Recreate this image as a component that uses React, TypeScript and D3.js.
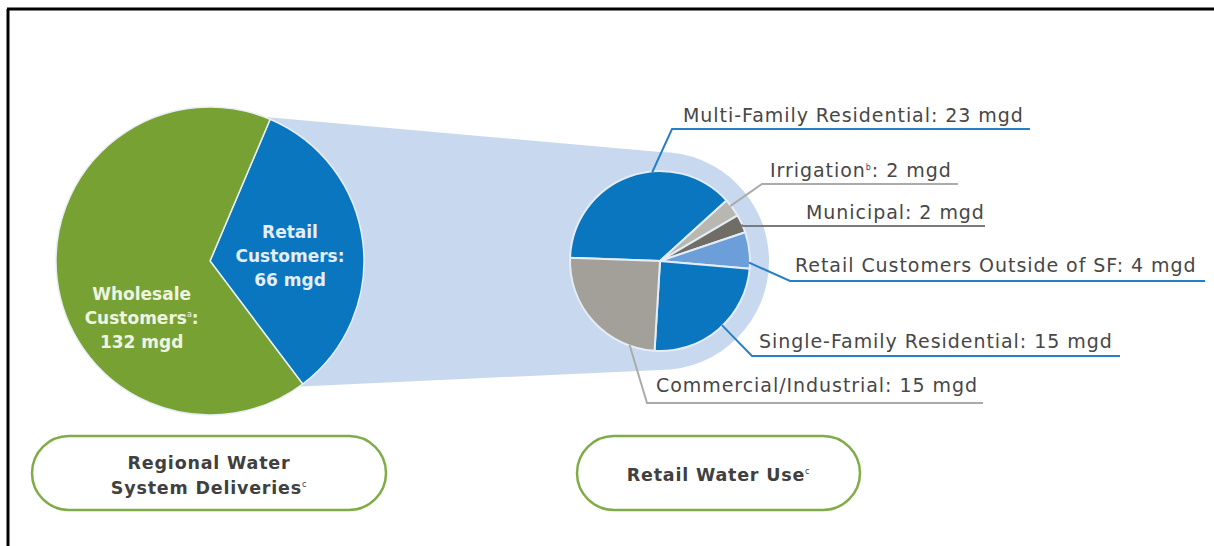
import * as d3 from "d3";

// regional water system deliveries (mgd)
const regionalCategories = ["Retail Customers", "Wholesale Customers"];
const regionalValues = [66, 132];
const regionalNotes = ["", "a"];

// retail water use (mgd)
const retailCategories = [
  "Multi-Family Residential",
  "Irrigation",
  "Municipal",
  "Retail Customers Outside of SF",
  "Single-Family Residential",
  "Commercial/Industrial",
];
const retailValues = [23, 2, 2, 4, 15, 15];
const retailNotes = ["", "b", "", "", "", ""];

const unit = "mgd";
const panelTitles = [["Regional Water", "System Deliveries"], ["Retail Water Use"]];
const panelNote = "c";

// ---- layout / styles ----
const W = 1214, H = 546;
const FONT = "'DejaVu Sans', 'Open Sans', sans-serif";
const TEXT = "#474747";
const BLUE = "#0a76c0";
const LIGHT = "#c8d8ee";

const left = { cx: 210, cy: 261, r: 154, start: 23 };
const right = { cx: 660, cy: 261, r: 90, halo: 109, start: -88 };

const regionalColors = [BLUE, "#77a233"];
const regionalText = ["#e4eef9", "#eef4e2"];
// polar anchor (deg, radius) of each in-slice label block
const regionalLabelPos = [{ a: 90, r: 80 }, { a: 228, r: 92 }];

const retailColors = [BLUE, "#b9b7b1", "#706d67", "#6c9fd9", BLUE, "#a3a099"];
const lineColors = ["#2580c6", "#ababab", "#7a7a7a", "#2580c6", "#2580c6", "#ababab"];
// text baseline, underline y, elbow x, underline end x, leader angle on pie
const retailLabelPos = [
  { tx: 683, ty: 122, ly: 129, x1: 672, x2: 1030, a: -5 },
  { tx: 770, ty: 177, ly: 184, x1: 762, x2: 958, a: 52 },
  { tx: 806, ty: 219, ly: 226, x1: 743, x2: 985, a: 66 },
  { tx: 795, ty: 272, ly: 281, x1: 790, x2: 1205, a: 91 },
  { tx: 759, ty: 348, ly: 356, x1: 752, x2: 1120, a: 136 },
  { tx: 656, ty: 392, ly: 403, x1: 647, x2: 983, a: 200 },
];

const rad = (d: number) => (d * Math.PI) / 180;
const polar = (cx: number, cy: number, a: number, r: number): [number, number] => [
  cx + r * Math.sin(rad(a)),
  cy - r * Math.cos(rad(a)),
];

export default function App() {
  const leftPie = d3.pie<number>().sort(null)
    .startAngle(rad(left.start)).endAngle(rad(left.start) + 2 * Math.PI)(regionalValues);
  const leftArc = d3.arc<d3.PieArcDatum<number>>().innerRadius(0).outerRadius(left.r);

  const rightPie = d3.pie<number>().sort(null)
    .startAngle(rad(right.start)).endAngle(rad(right.start) + 2 * Math.PI)(retailValues);
  const rightArc = d3.arc<d3.PieArcDatum<number>>().innerRadius(0).outerRadius(right.r);

  // light blue "zoom" band from the retail slice to the retail pie
  const [ux0, uy0] = polar(left.cx, left.cy, left.start - 1, left.r + 1);
  const [lx0, ly0] = polar(left.cx, left.cy, left.start + 120 + 1, left.r + 1);
  const band = d3.line()([
    [ux0, uy0],
    [right.cx, right.cy - right.halo],
    [right.cx, right.cy + right.halo],
    [lx0, ly0],
  ]) + "Z";

  return (
    <svg width={W} height={H} style={{ position: "absolute", left: 0, top: 0, background: "#fff" }} fontFamily={FONT}>
      {/* frame */}
      <line x1={7} y1={9} x2={W} y2={9} stroke="#000" strokeWidth={3} />
      <line x1={8} y1={9} x2={8} y2={H} stroke="#000" strokeWidth={3} />

      <path d={band} fill={LIGHT} />
      <circle cx={right.cx} cy={right.cy} r={right.halo} fill={LIGHT} />

      {/* regional deliveries pie */}
      <g transform={`translate(${left.cx},${left.cy})`}>
        {leftPie.map((d, i) => (
          <path key={i} d={leftArc(d) || ""} fill={regionalColors[i]} stroke="#e8eef5" strokeWidth={1.5} />
        ))}
      </g>
      {leftPie.map((d, i) => {
        const [x, y] = polar(left.cx, left.cy, regionalLabelPos[i].a, regionalLabelPos[i].r);
        const words = regionalCategories[i].split(" ");
        const note = regionalNotes[i];
        return (
          <text key={i} x={x} y={y} textAnchor="middle" fill={regionalText[i]} fontSize={17} fontWeight={700}>
            <tspan x={x} dy={-23}>{words[0]}</tspan>
            <tspan x={x} dy={24}>{words[1]}</tspan>
            {note ? <tspan dy={-7} fontSize={8} fontWeight={400}>{note}</tspan> : null}
            <tspan dy={note ? 7 : 0}>:</tspan>
            <tspan x={x} dy={24}>{`${regionalValues[i]} ${unit}`}</tspan>
          </text>
        );
      })}

      {/* retail use pie */}
      <g transform={`translate(${right.cx},${right.cy})`}>
        {rightPie.map((d, i) => (
          <path key={i} d={rightArc(d) || ""} fill={retailColors[i]} stroke="#e4ecf6" strokeWidth={2} />
        ))}
      </g>

      {rightPie.map((d, i) => {
        const p = retailLabelPos[i];
        const [sx, sy] = polar(right.cx, right.cy, p.a, right.r * 0.99);
        const pts = d3.line()([[sx, sy], [p.x1, p.ly], [p.x2, p.ly]]) || "";
        const note = retailNotes[i];
        return (
          <g key={i}>
            <path d={pts} fill="none" stroke={lineColors[i]} strokeWidth={2} />
            <text x={p.tx} y={p.ty} fill={TEXT} fontSize={19} letterSpacing={0.95}>
              <tspan>{retailCategories[i]}</tspan>
              {note ? <tspan dy={-7} fontSize={8}>{note}</tspan> : null}
              <tspan dy={note ? 7 : 0}>{`: ${retailValues[i]} ${unit}`}</tspan>
            </text>
          </g>
        );
      })}

      {/* panel captions */}
      {[{ x: 32, w: 354 }, { x: 577, w: 283 }].map((b, i) => {
        const lines = panelTitles[i];
        const cx = b.x + b.w / 2;
        const y0 = 473 - ((lines.length - 1) * 25) / 2 + 8;
        return (
          <g key={i}>
            <rect x={b.x} y={436} width={b.w} height={74} rx={37} fill="#fff" stroke="#80ac47" strokeWidth={2.5} />
            <text textAnchor="middle" fill="#404040" fontSize={17.5} fontWeight={700} letterSpacing={0.8}>
              {lines.map((l, j) => (
                <tspan key={j} x={cx} y={y0 + j * 25}>
                  {l}
                  {j === lines.length - 1 ? <tspan dy={-7} fontSize={8} fontWeight={400}>{panelNote}</tspan> : null}
                </tspan>
              ))}
            </text>
          </g>
        );
      })}
    </svg>
  );
}
